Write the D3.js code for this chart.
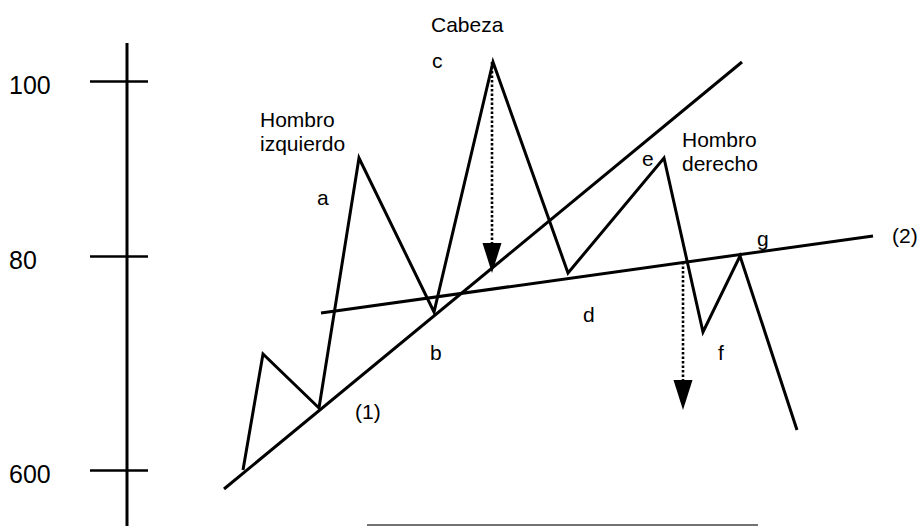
<!DOCTYPE html>
<html>
<head>
<meta charset="utf-8">
<script src="https://cdn.jsdelivr.net/npm/d3@7/dist/d3.min.js"></script>
<style>
  html, body { margin: 0; padding: 0; background: #fff; }
  svg { display: block; font-family: "Liberation Sans", Arial, Helvetica, sans-serif; }
</style>
</head>
<body>
<svg id="chart" width="920" height="526"></svg>
<script>
// ---- data (time units on x, level units on y) ----
const priceT = [24.3, 26.3, 31.9, 35.9, 43.4, 49.3, 56.8, 66.4, 70.3, 74.0, 79.7];
const priceV = [11.2, 34.4, 23.6, 73.6, 42.8, 92.8, 50.6, 73.6, 38.8, 54.0, 19.2];

const trendT = [22.4, 74.2];      // line (1)
const trendV = [7.4, 92.8];
const neckT = [32.1, 87.3];       // line (2)
const neckV = [42.6, 58.0];

const tickLevels = [89, 54, 11.2];
const tickLabels = ["100", "80", "600"];
const axisT = 12.7;
const axisRange = [96.6, 0];

// projected moves (dotted arrows)
const arrowT = [49.2, 68.3];
const arrowFrom = [92.8, 52.8];
const arrowTo = [50.6, 23.2];

// base rule at the bottom
const ruleT = [36.7, 75.8];
const ruleV = 0.2;

// annotations
const labelText = ["Cabeza", "c", "Hombro", "izquierdo", "a", "b", "(1)", "d", "e", "Hombro", "derecho", "g", "(2)", "f"];
const labelT =    [43.1,     43.2, 26.0,    26.0,        31.7, 43.0, 35.5, 58.3, 64.2, 68.2,    68.2,      75.7, 89.2, 71.8];
const labelV =    [98.8,     91.6, 79.8,    75.0,        64.2, 33.2, 21.4, 40.8, 72.0, 75.8,    71.0,      56.0, 56.6, 33.2];

// ---- scales ----
const W = 920, H = 526;
const x = d3.scaleLinear().domain([0, 92]).range([0, W]);
const y = d3.scaleLinear().domain([0, 100]).range([H, 26]);

const svg = d3.select("#chart");

// y axis
const axis = d3.axisLeft(y)
  .tickValues(tickLevels)
  .tickFormat((d, i) => tickLabels[i])
  .tickSizeOuter(0);
const gAxis = svg.append("g").attr("transform", `translate(${x(axisT)},0)`).call(axis);
gAxis.select(".domain").remove();
gAxis.selectAll(".tick line")
  .attr("x1", -37).attr("x2", 21)
  .attr("stroke", "#000").attr("stroke-width", 2.5);
gAxis.selectAll(".tick text")
  .attr("x", -118).attr("dy", "12px")
  .attr("text-anchor", "start")
  .attr("font-size", 25)
  .attr("font-family", "'Liberation Sans', Arial, sans-serif")
  .attr("fill", "#000");
gAxis.append("line")
  .attr("x1", 0).attr("x2", 0)
  .attr("y1", y(axisRange[0])).attr("y2", y(axisRange[1]))
  .attr("stroke", "#000").attr("stroke-width", 3);

// bottom rule
svg.append("line")
  .attr("x1", x(ruleT[0])).attr("x2", x(ruleT[1]))
  .attr("y1", y(ruleV)).attr("y2", y(ruleV))
  .attr("stroke", "#444").attr("stroke-width", 1.6);

const line = d3.line().x(d => x(d[0])).y(d => y(d[1]));

// trend line (1) and neckline (2)
svg.append("path").datum(d3.zip(trendT, trendV))
  .attr("d", line).attr("fill", "none").attr("stroke", "#000").attr("stroke-width", 3);
svg.append("path").datum(d3.zip(neckT, neckV))
  .attr("d", line).attr("fill", "none").attr("stroke", "#000").attr("stroke-width", 3);

// price zigzag
svg.append("path").datum(d3.zip(priceT, priceV))
  .attr("d", line).attr("fill", "none").attr("stroke", "#000")
  .attr("stroke-width", 3).attr("stroke-linejoin", "miter").attr("stroke-linecap", "butt");

// dotted arrows
const headH = 30, headW = 19;
arrowT.forEach((t, i) => {
  const cx = x(t), y0 = y(arrowFrom[i]), tip = y(arrowTo[i]);
  svg.append("line")
    .attr("x1", cx).attr("x2", cx).attr("y1", y0).attr("y2", tip - headH + 2)
    .attr("stroke", "#000").attr("stroke-width", 2.6).attr("stroke-dasharray", "2.5,2");
  svg.append("path")
    .attr("d", `M${cx - headW / 2},${tip - headH} L${cx + headW / 2},${tip - headH} L${cx},${tip} Z`)
    .attr("fill", "#000");
});

// labels
svg.append("g").selectAll("text").data(labelText).join("text")
  .attr("x", (d, i) => x(labelT[i]))
  .attr("y", (d, i) => y(labelV[i]))
  .attr("font-size", 21)
  .attr("fill", "#000")
  .text(d => d);
</script>
</body>
</html>
